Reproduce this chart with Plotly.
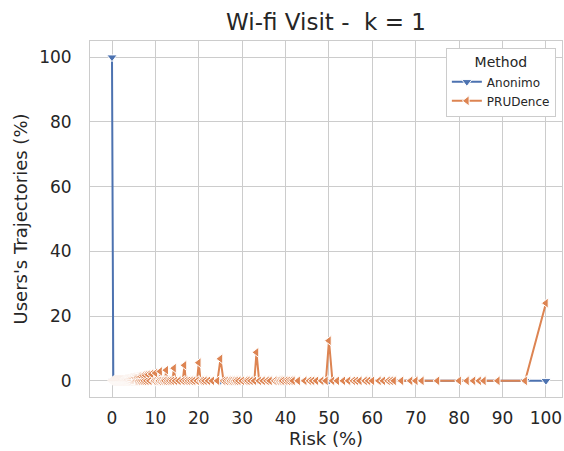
import plotly.graph_objects as go
import pandas as pd

# ---- data ----
anon_risk = [0.0, 0.3, 25.0, 33.3, 50.0, 95.2, 100.0]
anon_share = [100.0, 0.0, 0.0, 0.0, 0.0, 0.0, 0.0]

pru_peak_risk = [100.0, 50.0, 33.3, 25.0, 20.0, 16.7, 14.3, 12.5, 11.1, 10.0,
                 9.09, 8.33, 7.69, 7.14, 6.67, 6.25, 5.88, 5.56, 5.26, 5.0,
                 4.76, 4.55, 4.35, 4.17, 4.0, 3.85, 3.70, 3.57, 3.45, 3.33,
                 3.23, 3.13, 3.03, 2.94, 2.86, 2.78, 2.70, 2.63, 2.56, 2.5]
pru_peak_share = [24.0, 12.4, 8.8, 6.8, 5.6, 4.8, 3.9, 3.3, 2.9, 2.4,
                  2.1, 1.9, 1.7, 1.6, 1.4, 1.3, 1.2, 1.1, 1.0, 0.9,
                  0.85, 0.8, 0.75, 0.7, 0.65, 0.6, 0.55, 0.5, 0.48, 0.45,
                  0.42, 0.4, 0.38, 0.35, 0.33, 0.3, 0.28, 0.26, 0.24, 0.22]
pru_zero_risk = [0.0, 0.1, 0.15, 0.2, 0.25, 0.3, 0.35, 0.4, 0.45, 0.5, 0.55, 0.6,
                 0.65, 0.7, 0.75, 0.8, 0.85, 0.9, 0.95, 1.0, 1.05, 1.1, 1.15,
                 1.2, 1.25, 1.3, 1.35, 1.4, 1.45, 1.5, 1.55, 1.6, 1.65, 1.7,
                 1.75, 1.8, 1.85, 1.9, 1.95, 2.0, 2.05, 2.1, 2.15, 2.2, 2.25,
                 2.3, 2.35, 2.4, 2.45, 2.53, 2.6, 2.66, 2.74, 2.82,
                 2.9, 2.98, 3.08, 3.18, 3.28, 3.39, 3.51, 3.64, 3.77, 3.92,
                 4.08, 4.26, 4.44, 4.65, 4.88, 5.13, 5.41, 5.71, 6.06, 6.45,
                 6.9, 7.41, 8.0, 8.7, 9.52, 9.8, 10.3, 10.7, 10.9, 11.4, 11.8,
                 12.2, 12.8, 13.3, 13.9, 14.6, 15.4, 16.3, 17.0, 17.6, 18.2,
                 18.8, 19.6, 20.4, 20.8, 21.4, 22.2, 23.1, 24.3, 25.7, 26.3,
                 26.9, 27.3, 27.8, 28.2, 28.6, 29.2, 30.0, 30.8, 31.3, 32.0,
                 32.8, 33.9, 34.8, 35.7, 36.4, 37.5, 38.1, 38.5, 38.9, 39.3,
                 40.0, 40.6, 41.2, 41.7, 42.9, 44.4, 45.5, 46.2, 47.1,
                 48.3, 49.3, 50.8, 51.9, 53.3, 54.5, 55.6, 56.3, 57.1, 58.3,
                 59.1, 60.0, 61.5, 62.5, 63.6, 64.3, 65.0, 66.7, 68.8, 70.0,
                 71.4, 75.0, 80.0, 81.8, 83.3, 84.6, 85.7, 88.9, 95.2]

pru = pd.DataFrame({
    "risk": pru_peak_risk + pru_zero_risk,
    "share": pru_peak_share + [0.0] * len(pru_zero_risk),
}).sort_values("risk")

BLUE = "#4c72b0"
ORANGE = "#dd8452"
TXT = "#262626"
GRID = "#cccccc"

fig = go.Figure()
fig.add_trace(go.Scatter(
    x=anon_risk, y=anon_share, name="Anonimo", mode="lines+markers",
    line=dict(color=BLUE, width=2),
    marker=dict(symbol="triangle-down", size=9, color=BLUE,
                line=dict(color="white", width=1)),
))
fig.add_trace(go.Scatter(
    x=pru["risk"], y=pru["share"], name="PRUDence", mode="lines+markers",
    line=dict(color=ORANGE, width=2),
    marker=dict(symbol="triangle-left", size=9, color=ORANGE,
                line=dict(color="white", width=1)),
))

axis_common = dict(
    showgrid=True, gridcolor=GRID, gridwidth=1,
    showline=True, linecolor=GRID, linewidth=1, mirror=True,
    zeroline=False,
    ticks="outside", tickcolor="rgba(0,0,0,0)",
    tickfont=dict(family="DejaVu Sans", size=17, color=TXT),
)

fig.update_layout(
    width=564, height=451,
    margin=dict(l=90, r=2, t=41, b=54),
    paper_bgcolor="white", plot_bgcolor="white",
    font=dict(family="DejaVu Sans", color=TXT),
    title=dict(text="Wi-fi Visit - \u00a0k = 1", x=0.5, xref="paper", xanchor="center",
               y=1 - 22 / 451, yref="container", yanchor="middle",
               font=dict(family="DejaVu Sans", size=23, color=TXT)),
    xaxis=dict(range=[-5.07, 103.7], tickvals=[0, 10, 20, 30, 40, 50, 60, 70, 80, 90, 100],
               ticklen=6,
               title=dict(text="Risk (%)", standoff=4,
                          font=dict(family="DejaVu Sans", size=18, color=TXT)),
               **axis_common),
    yaxis=dict(range=[-5, 105], tickvals=[0, 20, 40, 60, 80, 100],
               ticklen=14,
               title=dict(text="Users's Trajectories (%)", standoff=6,
                          font=dict(family="DejaVu Sans", size=18, color=TXT)),
               **axis_common),
    legend=dict(
        x=0.987, y=0.98, xanchor="right", yanchor="top",
        bgcolor="white", bordercolor=GRID, borderwidth=1,
        font=dict(family="DejaVu Sans", size=12, color=TXT),
        title=dict(text="Method", side="top center",
                   font=dict(family="DejaVu Sans", size=14, color=TXT)),
        tracegroupgap=0, itemwidth=30,
    ),
    showlegend=True,
)

fig.write_html("out.html")
